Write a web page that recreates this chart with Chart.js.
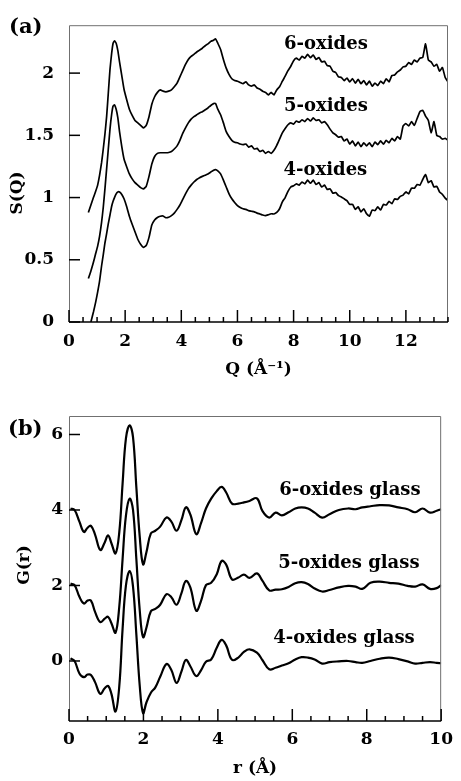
<!DOCTYPE html>
<html>
<head>
<meta charset="utf-8">
<script src="https://cdn.jsdelivr.net/npm/chart.js@4.4.1/dist/chart.umd.min.js"></script>
<style>
  body { margin: 0; background: #fff; }
  #wrap { position: relative; width: 461px; height: 781px; }
  .panel { position: absolute; left: 0; width: 461px; }
</style>
</head>
<body>
<div id="wrap">
  <div class="panel" style="top:0;height:390px"><canvas id="chartA"></canvas></div>
  <div class="panel" style="top:390px;height:391px"><canvas id="chartB"></canvas></div>
</div>
<script>
/* ── DATA: panel (a) S(Q) ── */
const qA = [
  0.69, 0.78, 0.87, 0.95, 1.02, 1.09, 1.16, 1.22, 1.28, 1.34,
  1.40, 1.46, 1.52, 1.57, 1.62, 1.68, 1.74, 1.80, 1.88, 1.96,
  2.05, 2.15, 2.25, 2.35, 2.45, 2.55, 2.65, 2.75, 2.85, 2.95,
  3.05, 3.15, 3.25, 3.35, 3.45, 3.55, 3.65, 3.75, 3.85, 3.95,
  4.05, 4.15, 4.25, 4.35, 4.45, 4.55, 4.65, 4.75, 4.85, 4.95,
  5.05, 5.15, 5.22, 5.30, 5.40, 5.50, 5.60, 5.70, 5.80, 5.90,
  6.0, 6.1, 6.2, 6.3, 6.4, 6.5, 6.6, 6.7, 6.8, 6.9,
  7.0, 7.1, 7.2, 7.3, 7.4, 7.5, 7.6, 7.7, 7.8, 7.9,
  8.0, 8.1, 8.2, 8.3, 8.4, 8.5, 8.6, 8.7, 8.8, 8.9,
  9.0, 9.1, 9.2, 9.3, 9.4, 9.5, 9.6, 9.7, 9.8, 9.9,
  10.0, 10.1, 10.2, 10.3, 10.4, 10.5, 10.6, 10.7, 10.8, 10.9,
  11.0, 11.1, 11.2, 11.3, 11.4, 11.5, 11.6, 11.7, 11.8, 11.9,
  12.0, 12.1, 12.2, 12.3, 12.4, 12.5, 12.6, 12.7, 12.8, 12.9,
  13.0, 13.1, 13.2, 13.3, 13.4, 13.5
];
const s6 = [
  0.88, 0.94, 1.00, 1.05, 1.10, 1.18, 1.28, 1.39, 1.51, 1.65,
  1.84, 2.03, 2.16, 2.24, 2.26, 2.24, 2.18, 2.09, 1.98, 1.87,
  1.79, 1.71, 1.66, 1.62, 1.60, 1.58, 1.56, 1.58, 1.65, 1.75,
  1.81, 1.845, 1.865, 1.855, 1.85, 1.855, 1.865, 1.89, 1.92, 1.97,
  2.02, 2.07, 2.11, 2.135, 2.15, 2.17, 2.185, 2.20, 2.22, 2.235,
  2.255, 2.265, 2.275, 2.24, 2.19, 2.11, 2.04, 1.99, 1.955, 1.94,
  1.935, 1.925, 1.915, 1.93, 1.905, 1.895, 1.905, 1.88, 1.87, 1.855,
  1.845, 1.825, 1.845, 1.825, 1.865, 1.89, 1.935, 1.975, 2.02, 2.055,
  2.10, 2.12, 2.105, 2.135, 2.12, 2.15, 2.125, 2.145, 2.11, 2.125,
  2.09, 2.095, 2.06, 2.055, 2.015, 2.005, 1.97, 1.965, 1.94, 1.96,
  1.93, 1.955, 1.92, 1.95, 1.915, 1.94, 1.905, 1.935, 1.895, 1.92,
  1.90, 1.935, 1.915, 1.955, 1.93, 1.98, 1.985, 2.01, 2.025, 2.05,
  2.055, 2.085, 2.07, 2.105, 2.09, 2.12, 2.125, 2.235, 2.105, 2.09,
  2.055, 2.07, 2.015, 2.045, 1.965, 1.93
];
const s5 = [
  0.35, 0.41, 0.48, 0.55, 0.61, 0.69, 0.80, 0.92, 1.07, 1.23,
  1.39, 1.55, 1.67, 1.735, 1.745, 1.71, 1.64, 1.53, 1.41, 1.31,
  1.25, 1.19, 1.15, 1.12, 1.10, 1.08, 1.07, 1.09, 1.17, 1.27,
  1.33, 1.355, 1.36, 1.36, 1.36, 1.362, 1.37, 1.39, 1.415, 1.46,
  1.515, 1.56, 1.60, 1.63, 1.65, 1.665, 1.68, 1.69, 1.705, 1.72,
  1.74, 1.755, 1.755, 1.71, 1.665, 1.60, 1.53, 1.49, 1.46, 1.445,
  1.44, 1.43, 1.425, 1.43, 1.405, 1.415, 1.39, 1.395, 1.37, 1.38,
  1.355, 1.37, 1.355, 1.38, 1.42, 1.47, 1.52, 1.555, 1.585, 1.60,
  1.59, 1.615, 1.605, 1.625, 1.61, 1.635, 1.615, 1.64, 1.62, 1.625,
  1.60, 1.61, 1.585, 1.55, 1.52, 1.505, 1.485, 1.49, 1.455, 1.47,
  1.43, 1.455, 1.415, 1.445, 1.41, 1.44, 1.415, 1.44, 1.41, 1.445,
  1.425, 1.455, 1.43, 1.46, 1.44, 1.475, 1.455, 1.49, 1.47, 1.575,
  1.595, 1.575, 1.61, 1.58, 1.635, 1.69, 1.70, 1.655, 1.62, 1.52,
  1.61, 1.50, 1.49, 1.47, 1.475, 1.46
];
const s4 = [
  null, 0.0, 0.08, 0.16, 0.24, 0.33, 0.45, 0.54, 0.635, 0.71,
  0.79, 0.86, 0.93, 0.97, 1.00, 1.03, 1.045, 1.045, 1.025, 0.99,
  0.93, 0.85, 0.785, 0.725, 0.665, 0.625, 0.60, 0.615, 0.68, 0.78,
  0.82, 0.84, 0.85, 0.852, 0.838, 0.842, 0.855, 0.875, 0.905, 0.94,
  0.985, 1.03, 1.07, 1.10, 1.125, 1.145, 1.16, 1.17, 1.18, 1.19,
  1.205, 1.22, 1.225, 1.215, 1.19, 1.14, 1.085, 1.03, 0.99, 0.96,
  0.935, 0.92, 0.91, 0.905, 0.895, 0.89, 0.885, 0.875, 0.868, 0.86,
  0.855, 0.862, 0.87, 0.868, 0.88, 0.91, 0.965, 1.0, 1.05, 1.085,
  1.095, 1.11, 1.10, 1.125, 1.11, 1.14, 1.115, 1.14, 1.105, 1.12,
  1.085, 1.10, 1.065, 1.07, 1.035, 1.04, 1.015, 1.005, 0.99, 0.975,
  0.945, 0.945, 0.905, 0.925, 0.885, 0.91, 0.87, 0.85, 0.90, 0.895,
  0.925, 0.90, 0.945, 0.94, 0.97, 0.95, 0.99, 0.985, 1.01, 1.02,
  1.045, 1.03, 1.075, 1.075, 1.105, 1.10, 1.145, 1.185, 1.12, 1.135,
  1.085, 1.09, 1.045, 1.025, 0.995, 0.975
];
const qTicks = [0, 0.5, 1, 1.5, 2, 2.5, 3, 3.5, 4, 4.5, 5, 5.5, 6, 6.5, 7,
                7.5, 8, 8.5, 9, 9.5, 10, 10.5, 11, 11.5, 12, 12.5, 13, 13.5];
const sTicks = [0, 0.5, 1, 1.5, 2];
const namesA = ['6-oxides', '5-oxides', '4-oxides'];

/* ── DATA: panel (b) G(r) ── */
const rB = [
  0.04, 0.15, 0.28, 0.40, 0.50, 0.59, 0.70, 0.84, 0.96, 1.05,
  1.14, 1.25, 1.35, 1.44, 1.53, 1.63, 1.72, 1.81, 1.90, 1.99,
  2.08, 2.20, 2.32, 2.45, 2.62, 2.75, 2.89, 3.02, 3.14, 3.26,
  3.42, 3.55, 3.68, 3.82, 3.97, 4.10, 4.22, 4.38, 4.55, 4.70,
  4.85, 5.05, 5.20, 5.38, 5.55, 5.72, 5.90, 6.08, 6.25, 6.42,
  6.60, 6.80, 7.00, 7.25, 7.50, 7.70, 7.88, 8.10, 8.35, 8.60,
  8.85, 9.10, 9.30, 9.50, 9.70, 9.88, 10.0
];
const g6 = [
  4.04, 4.0, 3.69, 3.42, 3.53, 3.58, 3.35, 2.94, 3.14, 3.33,
  3.12, 2.85, 3.4, 4.7, 5.9, 6.24, 5.93, 4.6, 3.3, 2.56,
  2.88, 3.38, 3.45, 3.56, 3.8, 3.69, 3.45, 3.73, 4.07, 3.88,
  3.36, 3.66, 4.04, 4.3, 4.5, 4.61, 4.47, 4.17, 4.17, 4.2,
  4.24, 4.31, 3.97, 3.8, 3.93, 3.86, 3.94, 4.04, 4.07, 4.04,
  3.93, 3.8, 3.89, 4.0, 4.04, 4.02, 4.07, 4.1, 4.13, 4.12,
  4.07, 4.02, 3.94, 4.04, 3.93, 3.98, 4.02
];
const g5 = [
  2.05, 2.01, 1.70, 1.52, 1.6, 1.6, 1.3, 1.03, 1.12, 1.17,
  1.0, 0.75, 1.43, 2.7, 3.85, 4.30, 4.0, 2.7, 1.35, 0.63,
  0.88, 1.32, 1.38, 1.49, 1.77, 1.69, 1.49, 1.79, 2.12, 1.95,
  1.33, 1.6, 2.01, 2.07, 2.3, 2.65, 2.56, 2.16, 2.21, 2.29,
  2.2, 2.32, 2.12, 1.87, 1.89, 1.9, 1.96, 2.06, 2.09, 2.04,
  1.92, 1.84, 1.88, 1.95, 1.99, 1.97, 1.91, 2.07, 2.1, 2.07,
  2.05, 1.99, 1.97, 2.03, 1.91, 1.93, 2.01
];
const g4 = [
  0.07, 0.0, -0.33, -0.43, -0.36, -0.37, -0.56, -0.87, -0.72, -0.66,
  -0.87, -1.34, -0.68, 0.85, 2.0, 2.38, 1.97, 0.7, -0.65, -1.38,
  -1.1, -0.84, -0.7, -0.42, -0.08, -0.24, -0.58, -0.28, 0.03, -0.14,
  -0.4, -0.24, -0.02, 0.04, 0.35, 0.56, 0.42, 0.03, 0.09, 0.24,
  0.31, 0.22, 0.02, -0.22, -0.18, -0.12, -0.06, 0.04, 0.1, 0.09,
  0.04, -0.07, -0.03, -0.01, 0.0, -0.03, -0.05, 0.0, 0.06, 0.09,
  0.05, -0.01, -0.07, -0.05, -0.03, -0.05, -0.06
];
const rTicks = [0, 0.5, 1, 1.5, 2, 2.5, 3, 3.5, 4, 4.5, 5, 5.5, 6, 6.5, 7,
                7.5, 8, 8.5, 9, 9.5, 10];
const gTicks = [0, 2, 4, 6];
const namesB = ['6-oxides glass', '5-oxides glass', '4-oxides glass'];

/* ── SHARED STYLE ── */
const FONT = "'DejaVu Serif', serif";
Chart.defaults.font.family = FONT;
Chart.defaults.font.weight = 'bold';
Chart.defaults.font.size = 17;
Chart.defaults.color = '#000';

// box, inward tick marks, curve labels, y title and panel tag
function framePlugin(cfg) {
  return {
    id: 'frame',
    afterDraw(chart) {
      const { ctx, chartArea: a, scales: { x, y } } = chart;
      ctx.save();
      ctx.strokeStyle = '#707070';
      ctx.lineWidth = 1;
      ctx.beginPath();
      ctx.moveTo(a.left + 0.5, a.bottom);
      ctx.lineTo(a.left + 0.5, a.top + 0.5);
      ctx.lineTo(a.right - 0.5, a.top + 0.5);
      ctx.lineTo(a.right - 0.5, a.bottom);
      ctx.stroke();

      ctx.strokeStyle = '#000';
      ctx.lineWidth = 1.6;
      ctx.beginPath();
      ctx.moveTo(a.left, a.bottom);
      ctx.lineTo(a.right, a.bottom);
      ctx.stroke();

      // tick marks point inward, into the plot
      ctx.lineWidth = 1.5;
      x.ticks.forEach(t => {
        const px = x.getPixelForValue(t.value);
        const len = t.value % 2 === 0 ? 12 : 5;
        ctx.beginPath();
        ctx.moveTo(px, a.bottom);
        ctx.lineTo(px, a.bottom - len);
        ctx.stroke();
      });
      y.ticks.forEach(t => {
        const py = y.getPixelForValue(t.value);
        ctx.beginPath();
        ctx.moveTo(a.left, py);
        ctx.lineTo(a.left + 11, py);
        ctx.stroke();
      });

      ctx.fillStyle = '#000';
      ctx.font = `bold 18px ${FONT}`;
      ctx.textBaseline = 'middle';
      ctx.textAlign = 'left';
      chart.data.datasets.forEach((ds, i) => {
        const [lx, ly] = cfg.labelAt[i];
        ctx.fillText(ds.label, x.getPixelForValue(lx), y.getPixelForValue(ly));
      });

      ctx.font = `bold 17px ${FONT}`;
      ctx.save();
      ctx.translate(cfg.yTitle.x, cfg.yTitle.y);
      ctx.rotate(-Math.PI / 2);
      ctx.textAlign = 'center';
      ctx.fillText(cfg.yTitle.text, 0, 0);
      ctx.restore();

      ctx.font = `bold 21px ${FONT}`;
      ctx.fillText(cfg.tag.text, cfg.tag.x, cfg.tag.y);
      ctx.restore();
    }
  };
}

function makeSets(xs, series, names, width) {
  return series.map((ys, i) => ({
    label: names[i],
    data: xs.map((v, j) => ({ x: v, y: ys[j] })),
    borderColor: '#000',
    borderWidth: width,
    pointRadius: 0,
    tension: width > 2 ? 0.4 : 0.15,
    fill: false
  }));
}

function makeChart(id, o) {
  return new Chart(document.getElementById(id), {
    type: 'line',
    data: { datasets: makeSets(o.xs, o.series, o.names, o.width) },
    options: {
      responsive: true, maintainAspectRatio: false, animation: false,
      devicePixelRatio: 1,
      layout: { padding: o.padding },
      plugins: { legend: { display: false }, tooltip: { enabled: false } },
      scales: {
        x: {
          type: 'linear', min: o.xMin, max: o.xMax,
          afterBuildTicks: s => { s.ticks = o.xTicks.map(v => ({ value: v })); },
          afterFit: s => { s.height = o.xHeight; },
          ticks: { autoSkip: false, maxRotation: 0, padding: o.xPad,
                   callback: v => (v % 2 === 0 ? v : '') },
          grid: { display: false, drawTicks: false },
          border: { display: false },
          title: { display: true, text: o.xTitle, padding: { top: 0, bottom: o.xTitlePad } }
        },
        y: {
          type: 'linear', min: o.yMin, max: o.yMax,
          afterBuildTicks: s => { s.ticks = o.yTicks.map(v => ({ value: v })); },
          afterFit: s => { s.width = 69; },
          ticks: { autoSkip: false, padding: o.yPad, callback: v => v },
          grid: { display: false, drawTicks: false },
          border: { display: false }
        }
      }
    },
    plugins: [framePlugin(o.frame)]
  });
}

makeChart('chartA', {
  xs: qA, series: [s6, s5, s4], names: namesA, width: 1.7,
  padding: { left: 0, top: 15, right: 13, bottom: 0 },
  xMin: 0, xMax: 13.5, yMin: 0, yMax: 2.385,
  xTicks: qTicks, yTicks: sTicks, xHeight: 68, xPad: 9, yPad: 15,
  xTitle: 'Q (Å⁻¹)', xTitlePad: 10,
  frame: {
    labelAt: [[7.66, 2.23], [7.66, 1.733], [7.64, 1.218]],
    yTitle: { text: 'S(Q)', x: 18, y: 193 },
    tag: { text: '(a)', x: 9, y: 28 }
  }
});

makeChart('chartB', {
  xs: rB, series: [g6, g5, g4], names: namesB, width: 2.2,
  padding: { left: 0, top: 26, right: 13, bottom: 0 },
  xMin: 0, xMax: 10, yMin: -1.59, yMax: 6.49,
  xTicks: rTicks, yTicks: gTicks, xHeight: 60, xPad: 8, yPad: 6,
  xTitle: 'r (Å)', xTitlePad: 2,
  frame: {
    labelAt: [[5.65, 4.52], [5.62, 2.59], [5.49, 0.61]],
    yTitle: { text: 'G(r)', x: 25, y: 175 },
    tag: { text: '(b)', x: 8, y: 40 }
  }
});
</script>
</body>
</html>
